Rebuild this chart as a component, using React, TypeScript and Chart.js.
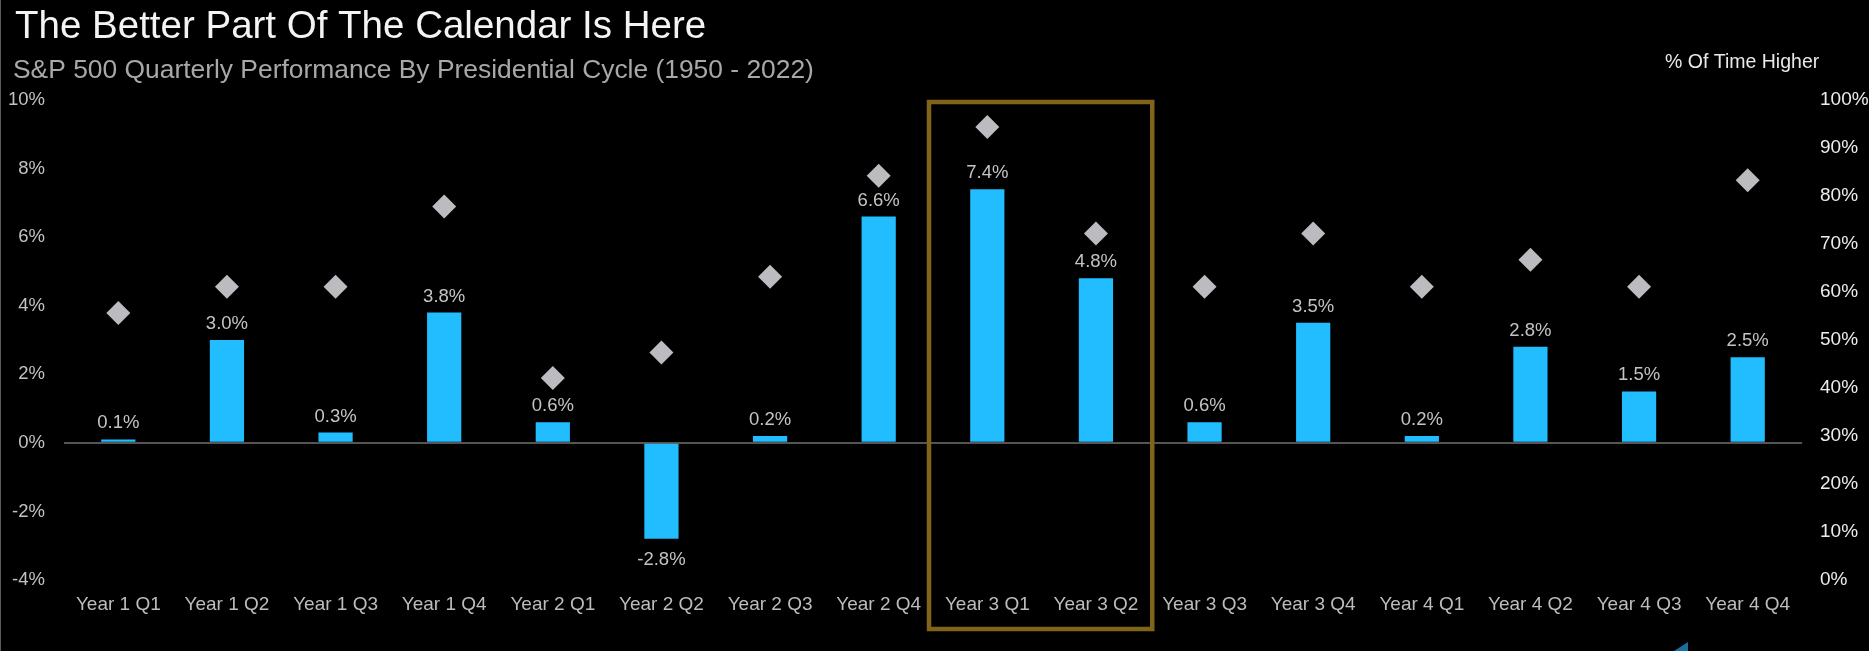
import React, { useEffect, useRef } from "react";
import { Chart, registerables } from "chart.js";

Chart.register(...registerables);

const categories = [
  "Year 1 Q1", "Year 1 Q2", "Year 1 Q3", "Year 1 Q4",
  "Year 2 Q1", "Year 2 Q2", "Year 2 Q3", "Year 2 Q4",
  "Year 3 Q1", "Year 3 Q2", "Year 3 Q3", "Year 3 Q4",
  "Year 4 Q1", "Year 4 Q2", "Year 4 Q3", "Year 4 Q4",
];
const avgReturn = [0.1, 3.0, 0.3, 3.8, 0.6, -2.8, 0.2, 6.6, 7.4, 4.8, 0.6, 3.5, 0.2, 2.8, 1.5, 2.5];
const pctHigher = [55.6, 61.1, 61.1, 77.8, 42.1, 47.4, 63.2, 84.2, 94.4, 72.2, 61.1, 72.2, 61.1, 66.7, 61.1, 83.3];
const leftTickValues = [-4, -2, 0, 2, 4, 6, 8, 10];
const rightTickValues = [0, 10, 20, 30, 40, 50, 60, 70, 80, 90, 100];
const highlighted = ["Year 3 Q1", "Year 3 Q2"];

const TITLE = "The Better Part Of The Calendar Is Here";
const SUBTITLE = "S&P 500 Quarterly Performance By Presidential Cycle (1950 - 2022)";
const RIGHT_AXIS_TITLE = "% Of Time Higher";

const FONT = "'Liberation Sans', Arial, sans-serif";
const W = 1869;
const H = 651;

export default function App() {
  const ref = useRef<HTMLCanvasElement | null>(null);

  useEffect(() => {
    document.body.style.margin = "0";
    document.body.style.background = "#000";
    const canvas = ref.current;
    if (!canvas) return;

    const textPlugin = {
      id: "texts",
      beforeDraw(chart: any) {
        const ctx = chart.ctx;
        ctx.save();
        ctx.fillStyle = "#000";
        ctx.fillRect(0, 0, chart.width, chart.height);
        ctx.restore();
      },
      afterDraw(chart: any) {
        const ctx = chart.ctx;
        ctx.save();
        ctx.textBaseline = "alphabetic";
        ctx.textAlign = "left";
        ctx.fillStyle = "#f4f4f4";
        ctx.font = `38.5px ${FONT}`;
        ctx.fillText(TITLE, 15, 38);
        ctx.fillStyle = "#a8a8a8";
        ctx.font = `26.4px ${FONT}`;
        ctx.fillText(SUBTITLE, 13, 78);
        ctx.fillStyle = "#e8e8e8";
        ctx.font = `19.5px ${FONT}`;
        ctx.fillText(RIGHT_AXIS_TITLE, 1665, 67.5);

        // highlight box
        const xs = chart.scales.x;
        const i1 = categories.indexOf(highlighted[0]);
        const i2 = categories.indexOf(highlighted[1]);
        const half = (xs.getPixelForValue(1) - xs.getPixelForValue(0)) / 2;
        const left = xs.getPixelForValue(i1) - half - 4;
        const right = xs.getPixelForValue(i2) + half + 2;
        const top = chart.chartArea.top + 2;
        const bottom = 629;
        ctx.strokeStyle = "#7f6419";
        ctx.lineWidth = 4.5;
        ctx.strokeRect(left, top, right - left, bottom - top);

        // left border line of the image
        ctx.fillStyle = "#5a5a5a";
        ctx.fillRect(0, 0, 1, chart.height);

        // cut-off logo fragment at the bottom edge
        ctx.fillStyle = "#1b6e9e";
        ctx.beginPath();
        ctx.moveTo(1688, 642);
        ctx.lineTo(1688, 651);
        ctx.lineTo(1674, 651);
        ctx.closePath();
        ctx.fill();
        ctx.restore();
      },
    };

    const labelPlugin = {
      id: "barLabels",
      afterDatasetsDraw(chart: any) {
        const ctx = chart.ctx;
        const meta = chart.getDatasetMeta(1);
        ctx.save();
        ctx.fillStyle = "#c4c4c4";
        ctx.font = `18.5px ${FONT}`;
        ctx.textAlign = "center";
        ctx.textBaseline = "alphabetic";
        meta.data.forEach((bar: any, i: number) => {
          const v = avgReturn[i];
          const txt = v.toFixed(1) + "%";
          if (v >= 0) {
            ctx.fillText(txt, bar.x, bar.y - 11);
          } else {
            ctx.fillText(txt, bar.x, bar.y + 26);
          }
        });
        ctx.restore();
      },
    };

    const chart = new Chart(canvas, {
      type: "bar",
      data: {
        labels: categories,
        datasets: [
          {
            type: "line",
            label: "% Of Time Higher",
            data: pctHigher,
            yAxisID: "y2",
            showLine: false,
            pointStyle: "rectRot",
            pointRadius: 12,
            pointBackgroundColor: "#bcbcc0",
            pointBorderWidth: 0,
            borderColor: "#bcbcc0",
            order: 0,
          } as any,
          {
            type: "bar",
            label: "Avg Return",
            data: avgReturn,
            yAxisID: "y",
            backgroundColor: "#22bdff",
            barPercentage: 0.315,
            categoryPercentage: 1,
            order: 1,
          },
        ],
      },
      options: {
        responsive: false,
        animation: false,
        layout: { padding: { top: 100, left: 0, right: 0, bottom: 0 } },
        plugins: {
          legend: { display: false },
          tooltip: { enabled: false },
          title: { display: false },
        },
        scales: {
          x: {
            grid: { display: false },
            border: { display: false },
            ticks: {
              color: "#bdbdbd",
              font: { family: FONT, size: 19 },
              padding: 5,
              maxRotation: 0,
              autoSkip: false,
            },
            afterFit: (s: any) => {
              s.height = 71;
            },
          },
          y: {
            position: "left",
            min: -4,
            max: 10,
            afterBuildTicks: (s: any) => {
              s.ticks = leftTickValues.map((v) => ({ value: v }));
            },
            ticks: {
              color: "#c2c2c2",
              font: { family: FONT, size: 18.5 },
              padding: 19,
              callback: (v: any) => `${v}%`,
            },
            grid: {
              drawTicks: false,
              color: (c: any) => (c.tick && c.tick.value === 0 ? "#555555" : "rgba(0,0,0,0)"),
              lineWidth: 2,
            },
            border: { display: false },
            afterFit: (s: any) => {
              s.width = 64;
            },
          },
          y2: {
            position: "right",
            min: 0,
            max: 100,
            afterBuildTicks: (s: any) => {
              s.ticks = rightTickValues.map((v) => ({ value: v }));
            },
            ticks: {
              color: "#ececec",
              font: { family: FONT, size: 19 },
              padding: 18,
              callback: (v: any) => `${v}%`,
            },
            grid: { display: false, drawTicks: false },
            border: { display: false },
            afterFit: (s: any) => {
              s.width = 67;
            },
          },
        },
      } as any,
      plugins: [textPlugin, labelPlugin],
    });

    return () => chart.destroy();
  }, []);

  return (
    <div style={{ width: W, height: H, background: "#000" }}>
      <canvas ref={ref} width={W} height={H} style={{ display: "block" }} />
    </div>
  );
}
